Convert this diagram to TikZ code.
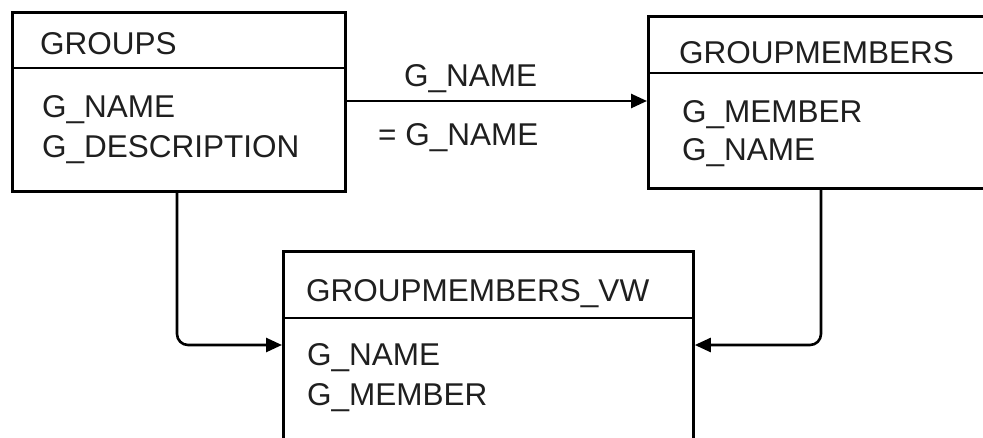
\documentclass[tikz,border=0pt]{standalone}
\usepackage{fontspec}
\setmainfont{Liberation Sans}
\usetikzlibrary{arrows.meta}
\begin{document}
\begin{tikzpicture}[x=1pt,y=-1pt,
  tbl/.style={draw=black, line width=2.8pt, rectangle, anchor=north west, inner sep=0pt},
  sep/.style={draw=black, line width=2.8pt},
  lbl/.style={anchor=base west, inner sep=0pt, font=\fontsize{31.5}{36}\selectfont, text=black!88},
  conn/.style={draw=black, line width=2.6pt, -{Triangle[length=16pt,width=14pt]}},
  elbow/.style={conn, rounded corners=11pt}]
\useasboundingbox (0,0) rectangle (983,437);
\clip (0,0) rectangle (983,437);
\fill[white] (0,0) rectangle (983,437);
% tables
\node[tbl, minimum width=333pt, minimum height=179pt] (groups) at (11,11) {};
\draw[sep] (11,68) -- (344,68);
\node[tbl, minimum width=380pt, minimum height=172pt] (gm) at (647,15) {};
\draw[sep] (647,73) -- (1030,73);
\node[tbl, minimum width=410pt, minimum height=220pt] (vw) at (282,250) {};
\draw[sep] (282,318) -- (692,318);
% texts
\node[lbl] (t1) at (40,54) {GROUPS};
\node[lbl] (t2) at (42,117) {G\_NAME};
\node[lbl] (t3) at (42,157) {G\_DESCRIPTION};
\node[lbl] (t4) at (679,63) {GROUPMEMBERS};
\node[lbl] (t5) at (682,122) {G\_MEMBER};
\node[lbl] (t6) at (682,160) {G\_NAME};
\node[lbl] (t7) at (306,301) {GROUPMEMBERS\_VW};
\node[lbl] (t8) at (307,365) {G\_NAME};
\node[lbl] (t9) at (307,405) {G\_MEMBER};
\node[lbl] (m1) at (404,86) {G\_NAME};
\node[lbl] (m2) at (378,145) {= G\_NAME};
% connectors
\coordinate (l0) at (177,190);
\coordinate (r0) at (821,187);
\draw[conn] (groups.east |- 0,101) -- (gm.west |- 0,101);
\draw[elbow] (l0) |- (vw.west |- 0,345);
\draw[elbow] (r0) |- (vw.east |- 0,345);
\end{tikzpicture}
\end{document}
